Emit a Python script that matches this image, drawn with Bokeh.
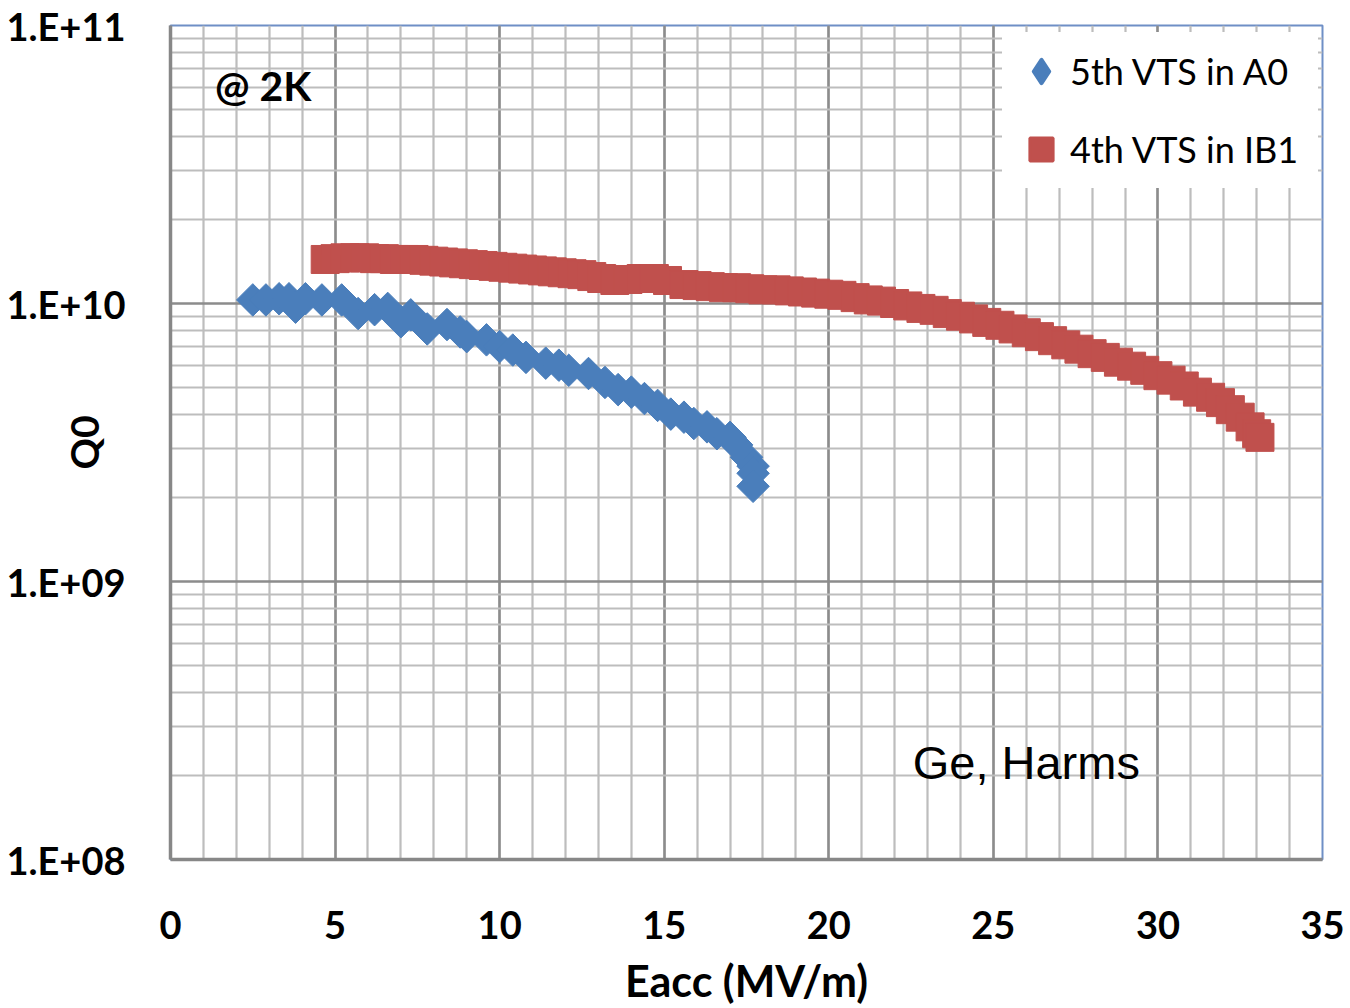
import numpy as np
from bokeh.plotting import figure
from bokeh.models import FixedTicker, Legend, LegendItem, Label
from bokeh.embed import file_html
from bokeh.resources import INLINE

# ---- data ----
blue_x = [2.5, 2.9, 3.3, 3.6, 3.8, 4.1, 4.6, 5.2, 5.7, 6.2, 6.6, 7.0, 7.3, 7.8, 8.4, 8.8,
          9.0, 9.6, 10.0, 10.4, 10.8, 11.4, 11.8, 12.1, 12.7, 13.2, 13.6, 14.0, 14.4, 14.8,
          15.2, 15.6, 15.9, 16.3, 16.6, 17.0, 17.2, 17.5, 17.7, 17.7, 17.7]
blue_q = [1.03e10, 1.03e10, 1.04e10, 1.04e10, 0.97e10, 1.04e10, 1.03e10, 1.03e10, 9.2e9, 9.5e9,
          9.6e9, 8.6e9, 9.1e9, 8.1e9, 8.4e9, 7.9e9, 7.6e9, 7.4e9, 7.0e9, 6.8e9, 6.4e9, 6.1e9,
          6.0e9, 5.75e9, 5.6e9, 5.2e9, 4.9e9, 4.8e9, 4.55e9, 4.3e9, 4.0e9, 3.9e9, 3.7e9, 3.6e9,
          3.4e9, 3.3e9, 3.1e9, 2.8e9, 2.6e9, 2.45e9, 2.2e9]

red_x = [4.7, 5.0, 5.3, 5.6, 5.9, 6.2, 6.5, 6.8, 7.1, 7.4, 7.7, 8.0, 8.3, 8.6, 8.9, 9.2, 9.5,
         9.8, 10.1, 10.4, 10.7, 11.0, 11.3, 11.6, 11.9, 12.2, 12.5, 12.8, 13.1, 13.5, 13.9,
         14.3, 14.7, 15.1, 15.6, 16.0, 16.4, 16.8, 17.2, 17.6, 18.0, 18.4, 18.8, 19.2, 19.6,
         20.0, 20.4, 20.8, 21.2, 21.6, 22.0, 22.4, 22.8, 23.2, 23.6, 24.0, 24.4, 24.8, 25.2,
         25.6, 26.0, 26.4, 26.8, 27.2, 27.6, 28.0, 28.4, 28.8, 29.2, 29.6, 30.0, 30.4, 30.8,
         31.2, 31.6, 31.9, 32.2, 32.5, 32.8, 33.0, 33.1]
red_q = [1.44e10, 1.45e10, 1.46e10, 1.46e10, 1.46e10, 1.45e10, 1.45e10, 1.44e10, 1.44e10,
         1.44e10, 1.43e10, 1.42e10, 1.41e10, 1.40e10, 1.39e10, 1.38e10, 1.37e10, 1.36e10,
         1.35e10, 1.34e10, 1.33e10, 1.32e10, 1.31e10, 1.30e10, 1.29e10, 1.28e10, 1.27e10,
         1.25e10, 1.23e10, 1.21e10, 1.22e10, 1.23e10, 1.23e10, 1.21e10, 1.17e10, 1.16e10,
         1.15e10, 1.14e10, 1.14e10, 1.13e10, 1.12e10, 1.12e10, 1.11e10, 1.10e10, 1.09e10,
         1.08e10, 1.07e10, 1.05e10, 1.03e10, 1.02e10, 1.00e10, 9.8e9, 9.6e9, 9.45e9, 9.2e9,
         9.0e9, 8.8e9, 8.55e9, 8.35e9, 8.1e9, 7.85e9, 7.6e9, 7.35e9, 7.1e9, 6.85e9, 6.6e9,
         6.4e9, 6.15e9, 5.95e9, 5.75e9, 5.5e9, 5.3e9, 5.05e9, 4.8e9, 4.6e9, 4.4e9, 4.15e9,
         3.9e9, 3.6e9, 3.4e9, 3.3e9]

series_names = ["5th VTS in A0", "4th VTS in IB1"]
x_ticks = [0, 5, 10, 15, 20, 25, 30, 35]
y_ticks = [1e8, 1e9, 1e10, 1e11]
y_tick_labels = ["1.E+08", "1.E+09", "1.E+10", "1.E+11"]

BLUE = "#4A7EBB"
RED = "#C0504D"
FONT = "Lato"

p = figure(width=1345, height=1008, x_range=(0, 35), y_range=(1e8, 1e11),
           y_axis_type="log", output_backend="svg", toolbar_location=None,
           min_border_left=170, min_border_top=25, min_border_right=23,
           min_border_bottom=148)

# grid / ticks
p.xaxis.ticker = FixedTicker(ticks=x_ticks, minor_ticks=list(range(0, 36)))
minor_y = [k * 10.0 ** e for e in (8, 9, 10) for k in range(2, 10)]
p.yaxis.ticker = FixedTicker(ticks=y_ticks, minor_ticks=minor_y)
p.yaxis.major_label_overrides = {int(t): l for t, l in zip(y_ticks, y_tick_labels)}

for g in (p.xgrid, p.ygrid):
    g.grid_line_color = "#8c8c8c"
    g.grid_line_width = 2.5
    g.minor_grid_line_color = "#bdbdbd"
    g.minor_grid_line_width = 2.2

for ax in (p.xaxis, p.yaxis):
    ax.axis_line_color = "#878787"
    ax.axis_line_width = 3.5
    ax.major_tick_line_color = None
    ax.minor_tick_line_color = None
    ax.major_label_text_font = FONT
    ax.major_label_text_font_style = "bold"
    ax.major_label_text_font_size = "38px"
    ax.major_label_text_color = "black"
    ax.axis_label_text_font = FONT
    ax.axis_label_text_font_style = "bold"
    ax.axis_label_text_color = "black"

p.xaxis.axis_label = "Eacc (MV/m)"
p.xaxis.axis_label_text_font_size = "43px"
p.xaxis.major_label_standoff = 45
p.xaxis.axis_label_standoff = 13
p.yaxis.axis_label = "Q0"
p.yaxis.axis_label_text_font_size = "39px"
p.yaxis.major_label_standoff = 39
p.yaxis.axis_label_standoff = -104

p.outline_line_color = "#6f8fc6"
p.outline_line_width = 2
p.background_fill_color = "white"
p.border_fill_color = "white"

rb = p.scatter(x=blue_x, y=blue_q, marker="square", angle=np.pi / 4, size=23,
               fill_color=BLUE, line_color=BLUE)
rr = p.scatter(x=red_x, y=red_q, marker="square", size=28,
               fill_color=RED, line_color=RED)
# legend keys (hidden renderers of the same series, used only for the legend symbols)
rb_key = p.scatter(x=blue_x, y=blue_q, marker="diamond", size=23, fill_color=BLUE,
                   line_color=BLUE, line_width=4, line_join="round", visible=False)
rr_key = p.scatter(x=red_x, y=red_q, marker="square", size=23, fill_color=RED,
                   line_color=RED, line_width=3, visible=False)

# location = bottom-left corner of the legend box, in px from the frame's bottom-left
legend = Legend(items=[LegendItem(label=series_names[0], renderers=[rb_key]),
                       LegendItem(label=series_names[1], renderers=[rr_key])],
                location=(832, 671), padding=10, spacing=20,
                glyph_width=58, glyph_height=58, label_height=58,
                label_standoff=0, label_width=238,
                label_text_font=FONT, label_text_font_size="36px",
                label_text_color="black", border_line_alpha=0,
                background_fill_color="white", background_fill_alpha=1,
                inactive_fill_alpha=0)
p.add_layout(legend)

p.add_layout(Label(x=1.35, y=6.1e10, text="@ 2K", text_font=FONT, text_font_style="bold",
                   text_font_size="41px", text_baseline="middle", text_color="black"))
p.add_layout(Label(x=22.55, y=2.23e8, text="Ge, Harms", text_font="Liberation Sans",
                   text_font_size="47px", text_baseline="middle", text_color="black"))

open("out.html", "w").write(file_html(p, INLINE))
